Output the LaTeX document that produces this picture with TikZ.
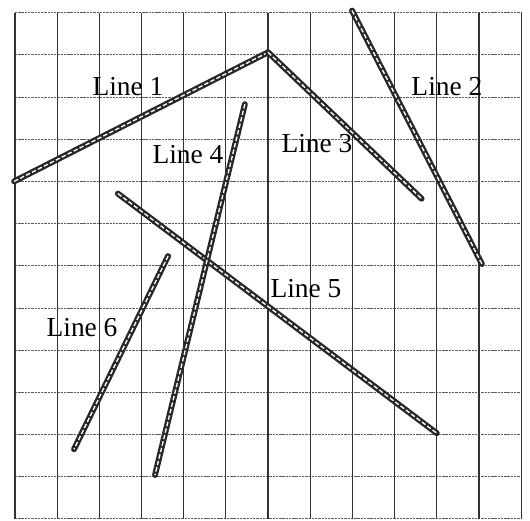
\documentclass[tikz,border=0pt]{standalone}
\usepackage{fontspec}
\setmainfont{Liberation Serif}
\usepackage{xcolor}
\definecolor{gridink}{RGB}{50, 50, 50}
\definecolor{lineink}{RGB}{40, 40, 40}
\tikzset{
  vgrid/.style={draw=gridink, line width=0.8pt},
  hgrid/.style={draw=gridink!80, line width=0.5pt, dash pattern=on 1.6pt off 0.6pt},
  strip/.style={draw=lineink, line width=4pt, line cap=round},
  stripcore/.style={draw=white, line width=0.9pt, dash pattern=on 3pt off 1.5pt},
  lbl/.style={font=\fontsize{18.5}{21}\selectfont, inner sep=1pt},
}
\begin{document}
\begin{tikzpicture}
    \useasboundingbox (-0.355,-0.05) rectangle (12.21,12.30);
    \fill[white] (-0.355,-0.05) rectangle (12.21,12.30);

    % grid
    \foreach \y in {0,...,12} \draw[hgrid] (0,\y) -- (12,\y);
    \foreach \x in {0,...,12} \draw[vgrid] (\x,0) -- (\x,12);

    % line ends
    \coordinate (a1) at (-0.02,8.00);
    \coordinate (top) at (6.00,11.06);
    \coordinate (b3) at (9.64,7.59);
    \coordinate (a2) at (7.99,12.05);
    \coordinate (b2) at (11.07,6.04);
    \coordinate (a4) at (5.45,9.83);
    \coordinate (b4) at (3.32,1.04);
    \coordinate (a5) at (2.44,7.71);
    \coordinate (b5) at (10.00,2.03);
    \coordinate (a6) at (3.63,6.23);
    \coordinate (b6) at (1.40,1.65);

    \foreach \p/\q in {a1/top, top/b3, a2/b2, a5/b5, a4/b4, a6/b6} {
      \draw[strip] (\p) -- (\q);
      \draw[stripcore] (\p) -- (\q);
    }

    \node[lbl] (l1) at (2.68,10.24) {Line 1};
    \node[lbl] (l2) at (10.24,10.24) {Line 2};
    \node[lbl] (l3) at (7.16,8.89) {Line 3};
    \node[lbl] (l4) at (4.10,8.63) {Line 4};
    \node[lbl] (l5) at (6.90,5.45) {Line 5};
    \node[lbl] (l6) at (1.59,4.53) {Line 6};
  \end{tikzpicture}
\end{document}
